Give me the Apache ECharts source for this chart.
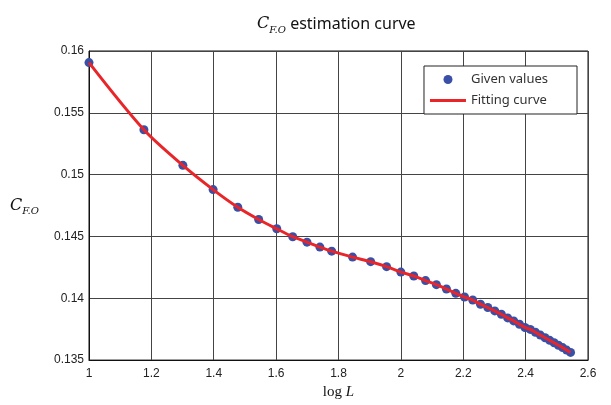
<!DOCTYPE html>
<html>
<head>
<meta charset="utf-8">
<style>
  html, body { margin: 0; padding: 0; background: #fff; }
  #chart { width: 611px; height: 405px; }
</style>
<script src="https://cdn.jsdelivr.net/npm/echarts@6/dist/echarts.min.js"></script>
</head>
<body>
<div id="chart"></div>
<script>
// L values (plotted as log10 L) and C_F.O
const lengths = [10, 15, 20, 25, 30, 35, 40, 45, 50, 55, 60,
  70, 80, 90, 100, 110, 120, 130, 140, 150, 160, 170, 180, 190, 200,
  210, 220, 230, 240, 250, 260, 270, 280, 290, 300, 310, 320, 330, 340, 350]
const givenValues = [0.15906, 0.15363, 0.15075, 0.14879, 0.14736, 0.14637, 0.14562, 0.14498, 0.14454, 0.14414, 0.14381,
  0.14333, 0.14296, 0.14256, 0.14212, 0.1418, 0.14143, 0.1411, 0.14075, 0.1404, 0.1401, 0.13986, 0.13952, 0.13925, 0.13898,
  0.13871, 0.13841, 0.13817, 0.1379, 0.13764, 0.13748, 0.13725, 0.13702, 0.13681, 0.1366, 0.1364, 0.1362, 0.13601, 0.13581, 0.13562]
const xTicks = [1, 1.2, 1.4, 1.6, 1.8, 2, 2.2, 2.4, 2.6]
const yTicks = [0.135, 0.14, 0.145, 0.15, 0.155, 0.16]

const points = lengths.map((l, i) => [Math.log10(l), givenValues[i]])

const chart = echarts.init(document.getElementById('chart'))
chart.setOption({
  animation: false,
  title: {
    text: '{c|C}{s|F.O}{t| estimation curve}',
    left: 252,
    top: 8,
    textStyle: {
      fontWeight: 'normal',
      rich: {
        c: { fontFamily: 'DejaVu Serif', fontStyle: 'italic', fontWeight: 'normal', fontSize: 16, color: '#111', lineHeight: 22, verticalAlign: 'middle' },
        s: { fontFamily: 'DejaVu Serif', fontStyle: 'italic', fontWeight: 'normal', fontSize: 10, color: '#111', lineHeight: 22, verticalAlign: 'bottom' },
        t: { fontFamily: 'Noto Sans', fontWeight: 'normal', fontSize: 16, color: '#111', lineHeight: 22, verticalAlign: 'middle' }
      }
    }
  },
  legend: {
    orient: 'vertical',
    right: 34,
    top: 66,
    padding: [7, 29, 7, 6],
    itemGap: 8,
    itemWidth: 36,
    itemHeight: 9,
    backgroundColor: '#fff',
    borderColor: '#222',
    borderWidth: 1,
    borderRadius: 0,
    textStyle: { fontFamily: 'Noto Sans', fontSize: 13, color: '#333' },
    data: [
      { name: 'Given values', icon: 'circle' },
      // thin red bar inside a 36x9 box
      { name: 'Fitting curve', icon: 'path://M0,0M36,9M0,3H36V6H0Z' }
    ]
  },
  grid: {
    left: 89, right: 23, top: 51, bottom: 44,
    show: true, borderColor: '#111', borderWidth: 1
  },
  xAxis: {
    type: 'value',
    min: 1, max: 2.6, interval: 0.2,
    name: '{a|log }{b|L}',
    nameLocation: 'middle',
    nameGap: 24,
    nameTextStyle: {
      rich: {
        a: { fontFamily: 'Liberation Serif', fontSize: 15, color: '#111' },
        b: { fontFamily: 'Liberation Serif', fontStyle: 'italic', fontSize: 15, color: '#111' }
      }
    },
    axisLine: { lineStyle: { color: '#111' } },
    axisTick: { show: false },
    axisLabel: {
      fontFamily: 'Liberation Sans', fontSize: 12, color: '#222', margin: 8,
      formatter: v => String(+v.toFixed(1))
    },
    splitLine: { lineStyle: { color: '#444', width: 1 } }
  },
  yAxis: {
    type: 'value',
    min: 0.135, max: 0.16, interval: 0.005,
    name: '{c|C}{s|F.O}',
    nameLocation: 'middle',
    nameGap: 50,
    nameRotate: 0,
    nameTextStyle: {
      rich: {
        c: { fontFamily: 'DejaVu Serif', fontStyle: 'italic', fontSize: 16, color: '#111', lineHeight: 22, verticalAlign: 'middle' },
        s: { fontFamily: 'DejaVu Serif', fontStyle: 'italic', fontSize: 10, color: '#111', lineHeight: 22, verticalAlign: 'bottom' }
      }
    },
    axisLine: { show: true, lineStyle: { color: '#111' } },
    axisTick: { show: false },
    axisLabel: {
      fontFamily: 'Liberation Sans', fontSize: 12, color: '#222', margin: 5,
      formatter: v => String(+v.toFixed(3))
    },
    splitLine: { lineStyle: { color: '#444', width: 1 } }
  },
  series: [
    {
      name: 'Given values',
      type: 'scatter',
      data: points,
      symbol: 'circle',
      symbolSize: 9,
      itemStyle: { color: '#3a4fa6', opacity: 1 },
      z: 2
    },
    {
      name: 'Fitting curve',
      type: 'line',
      data: points,
      smooth: 0.3,
      symbol: 'none',
      lineStyle: { color: '#e8262a', width: 3 },
      itemStyle: { color: '#e8262a' },
      z: 3
    }
  ]
})
</script>
</body>
</html>
